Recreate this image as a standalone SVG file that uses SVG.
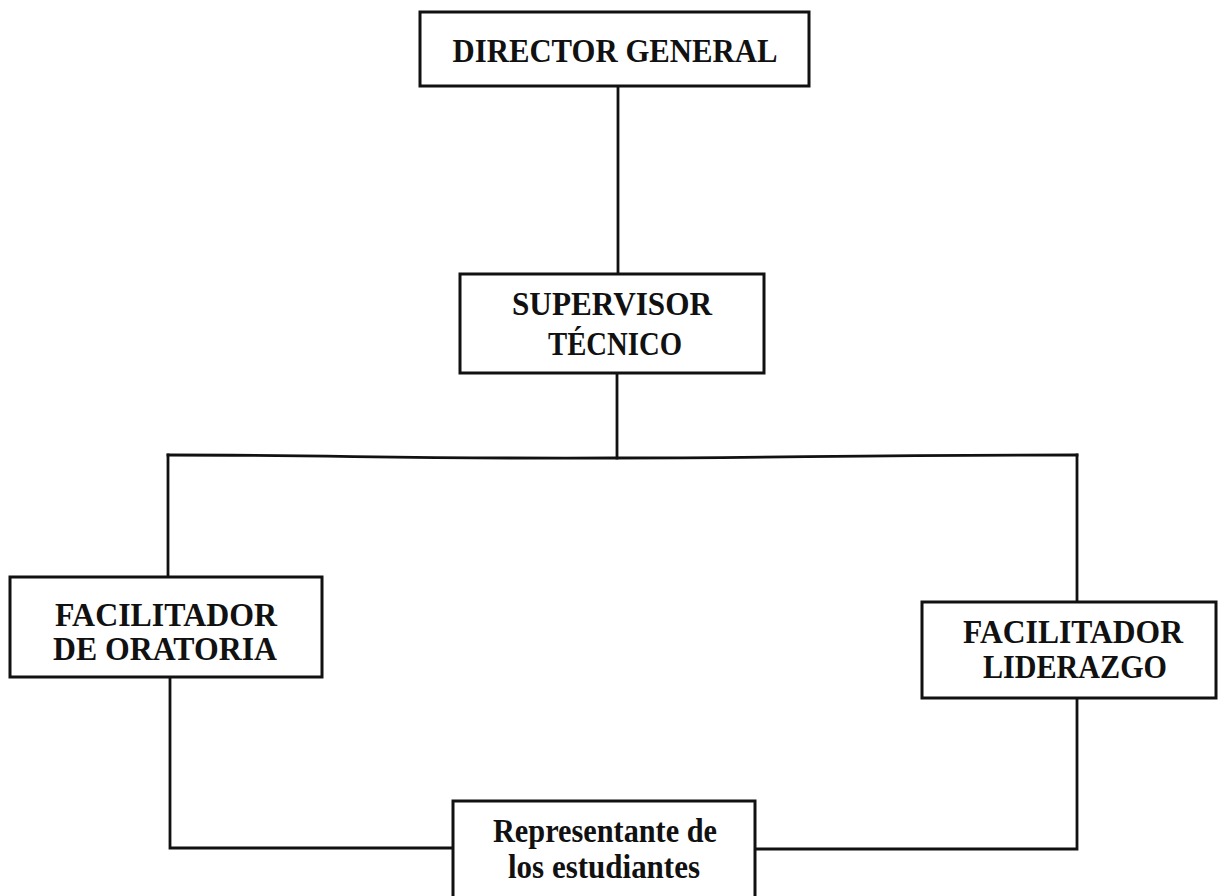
<svg xmlns="http://www.w3.org/2000/svg" width="1218" height="896" viewBox="0 0 1218 896">
<style>
.box{fill:#fff;stroke:#111;stroke-width:3}
.conn{fill:none;stroke:#111;stroke-width:2.8;stroke-linecap:square;stroke-linejoin:miter}
.t{font-family:"Liberation Serif","Times New Roman",serif;font-weight:bold;font-size:33px;fill:#111;text-anchor:middle}
</style>
<rect width="1218" height="896" fill="#fff"/>
<g id="connectors">
<path class="conn" d="M618 86 V274"/>
<path class="conn" d="M617 373 V458"/>
<path class="conn" d="M168 455 C330 455 420 459 616 458 C780 458 850 455 1077 455"/>
<path class="conn" d="M168 455 V577"/>
<path class="conn" d="M1077 455 V602"/>
<path class="conn" d="M170 677 V848 H453"/>
<path class="conn" d="M1077 698 V849 H755"/>
</g>
<g id="director">
<rect class="box" x="420" y="12" width="389" height="74"/>
<text class="t" x="615" y="62" font-size="36" textLength="325" lengthAdjust="spacingAndGlyphs">DIRECTOR GENERAL</text>
</g>
<g id="supervisor">
<rect class="box" x="460" y="274" width="304" height="99"/>
<text class="t" x="612" y="315" textLength="200" lengthAdjust="spacingAndGlyphs">SUPERVISOR</text>
<text class="t" x="615" y="355" textLength="134" lengthAdjust="spacingAndGlyphs">TÉCNICO</text>
</g>
<g id="facilitador-oratoria">
<rect class="box" x="10" y="577" width="312" height="100"/>
<text class="t" x="166" y="626" textLength="222" lengthAdjust="spacingAndGlyphs">FACILITADOR</text>
<text class="t" x="165" y="660" textLength="224" lengthAdjust="spacingAndGlyphs">DE ORATORIA</text>
</g>
<g id="facilitador-liderazgo">
<rect class="box" x="922" y="602" width="294" height="96"/>
<text class="t" x="1073" y="643" textLength="220" lengthAdjust="spacingAndGlyphs">FACILITADOR</text>
<text class="t" x="1075" y="678" textLength="184" lengthAdjust="spacingAndGlyphs">LIDERAZGO</text>
</g>
<g id="representante">
<rect class="box" x="453" y="801" width="302" height="110"/>
<text class="t" x="605" y="842" textLength="224" lengthAdjust="spacingAndGlyphs">Representante de</text>
<text class="t" x="604" y="878" textLength="192" lengthAdjust="spacingAndGlyphs">los estudiantes</text>
</g>
</svg>
